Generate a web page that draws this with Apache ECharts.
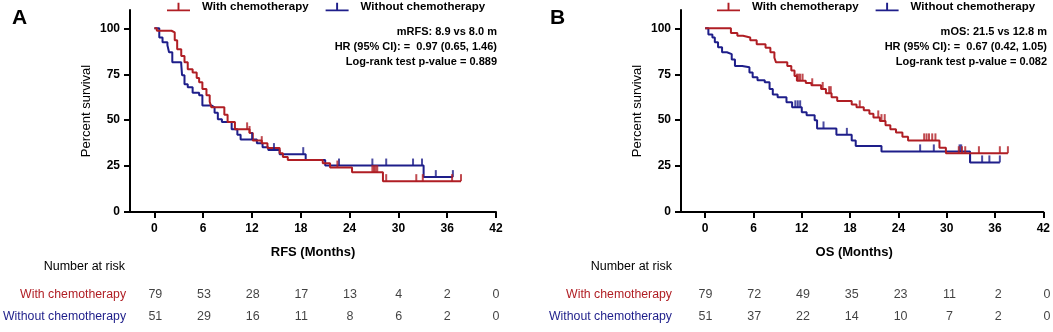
<!DOCTYPE html>
<html><head><meta charset="utf-8">
<script src="https://cdn.jsdelivr.net/npm/echarts@6/dist/echarts.min.js"></script>
<style>html,body{margin:0;padding:0;background:#fff}#c{width:1053px;height:332px}</style>
</head><body><div id="c"></div>
<script>
// ---------- data ----------
const xTicks = [0, 6, 12, 18, 24, 30, 36, 42];
const yTicks = [0, 25, 50, 75, 100];
const groups = ['With chemotherapy', 'Without chemotherapy'];

// Panel A: RFS
const rfsWithTime = [0, 0.3, 2.1, 2.5, 2.8, 3.3, 3.7, 4.1, 4.7, 5.2, 5.5, 5.9, 6.4, 6.8, 7.0, 8.6, 9.0, 9.9, 11.7, 12.1, 13.2, 13.9, 15.4, 15.8, 16.4, 20.7, 21.6, 24.3, 28.1, 37.7];
const rfsWithSurv = [100, 98.7, 97.8, 93.5, 88.6, 85, 81.5, 77.7, 76, 73, 70.6, 67, 63.6, 60, 57, 53, 49, 45, 43, 39, 37.5, 34.8, 32, 30, 28.3, 26.6, 24.2, 21.7, 16.8, 16.8];
const rfsWithCensor = [11.4, 11.7, 13.2, 22.5, 26.8, 27.0, 27.2, 27.4, 28.5, 32.2, 33.0, 36.6, 37.7];

const rfsWithoutTime = [0, 0.6, 1.0, 1.6, 1.8, 2.2, 3.3, 3.4, 3.7, 4.1, 4.7, 5.5, 5.9, 7.0, 7.4, 7.8, 8.3, 9.5, 10.2, 10.6, 12.6, 13.3, 14.0, 15.4, 18.6, 21.0, 33.1, 36.7];
const rfsWithoutSurv = [100, 95, 92.4, 90.8, 87, 81.5, 80.4, 74.5, 69.6, 68, 65, 63.6, 58, 57, 54, 50.5, 49, 45, 42, 39.5, 37.5, 35.3, 33.7, 31.5, 28.3, 25.3, 19, 19];
const rfsWithoutCensor = [12.0, 14.7, 18.3, 22.7, 26.8, 28.5, 31.8, 32.9, 34.6, 36.7];

// Panel B: OS
const osWithTime = [0, 3.2, 4.0, 4.7, 5.6, 6.4, 7.5, 8.1, 8.6, 8.8, 10.2, 10.7, 11.1, 11.4, 12.5, 13.2, 14.4, 15.0, 15.7, 16.4, 18.2, 18.8, 19.7, 20.4, 20.9, 21.7, 22.4, 23.0, 23.7, 24.5, 25.2, 29.1, 29.9, 37.6];
const osWithSurv = [100, 97.5, 96, 95, 93.5, 91.3, 89.5, 87, 84, 81.5, 79.5, 77, 74, 71.5, 70.2, 69, 67, 64.7, 62.5, 60.5, 58.5, 57, 55.4, 53.5, 51.5, 49.5, 47.3, 45, 43.3, 41, 39, 35, 32, 32];
const osWithCensor = [11.4, 11.6, 11.8, 12.1, 13.3, 14.6, 15.4, 15.6, 19.2, 21.5, 21.9, 22.3, 27.2, 27.5, 27.8, 28.2, 28.6, 31.5, 31.9, 32.3, 34.0, 36.6, 37.6];

const osWithoutTime = [0, 0.4, 0.9, 1.2, 1.6, 2.1, 2.7, 3.3, 3.7, 4.6, 5.5, 5.9, 6.5, 7.4, 8.0, 8.4, 9.0, 10.1, 10.8, 12.0, 12.6, 13.6, 13.9, 16.3, 18.2, 18.7, 21.9, 32.9, 36.6];
const osWithoutSurv = [100, 96.7, 95, 92.4, 89.7, 87, 86, 83, 79.5, 78.8, 76, 73.4, 71.7, 70.6, 67, 64, 62.5, 59.8, 57, 54.3, 52.7, 50, 45.5, 42, 39, 36, 33, 27, 27];
const osWithoutCensor = [11.2, 11.5, 11.8, 14.7, 17.6, 26.7, 28.4, 31.6, 31.8, 32.9, 34.4, 35.3, 36.6];

// Number at risk
const rfsRiskWith = [79, 53, 28, 17, 13, 4, 2, 0];
const rfsRiskWithout = [51, 29, 16, 11, 8, 6, 2, 0];
const osRiskWith = [79, 72, 49, 35, 23, 11, 2, 0];
const osRiskWithout = [51, 37, 22, 14, 10, 7, 2, 0];

const statsA = ['mRFS: 8.9 vs 8.0 m', 'HR (95% CI): =  0.97 (0.65, 1.46)', 'Log-rank test p-value = 0.889'];
const statsB = ['mOS: 21.5 vs 12.8 m', 'HR (95% CI): =  0.67 (0.42, 1.05)', 'Log-rank test p-value = 0.082'];

// ---------- styling ----------
const RED = '#B01E24';
const BLUE = '#1E1E8A';
const FONT = "'Liberation Sans', Arial, sans-serif";
const ICON = 'path://M0,10h24v2h-24z M11,3h2v7h-2z';

function pairs(t, s) { return t.map((v, i) => [v, s[i]]); }
function survAt(t, s, x) { let v = s[0]; for (let i = 0; i < t.length; i++) if (t[i] <= x) v = s[i]; return v; }
function censorPts(t, s, c) { return c.map(x => [x, survAt(t, s, x)]); }

const gridTop = 10, gridH = 202, gridW = 366;
const leftA = 130, leftB = 681;

function mainX(gi) {
  return {
    type: 'value', gridIndex: gi, min: -3, max: 42,
    name: gi === 0 ? 'RFS (Months)' : 'OS (Months)', nameLocation: 'middle', nameGap: 34,
    nameTextStyle: { fontFamily: FONT, fontSize: 13, fontWeight: 'bold', color: '#000', padding: gi === 0 ? 0 : [0, 16, 0, 0] },
    axisLine: { onZero: false, lineStyle: { color: '#000', width: 2 } },
    axisTick: { show: true, length: 6, lineStyle: { color: '#000', width: 2 }, customValues: xTicks },
    axisLabel: { fontFamily: FONT, fontSize: 12, fontWeight: 'bold', color: '#000', margin: 11, customValues: xTicks },
    splitLine: { show: false }
  };
}
function mainY(gi) {
  return {
    type: 'value', gridIndex: gi, min: 0, max: 110,
    name: 'Percent survival', nameLocation: 'middle', nameGap: 37, nameRotate: 90,
    nameTextStyle: { fontFamily: FONT, fontSize: 13, color: '#000' },
    axisLine: { show: true, onZero: false, lineStyle: { color: '#000', width: 2 } },
    axisTick: { show: true, length: 6, lineStyle: { color: '#000', width: 2 }, customValues: yTicks },
    axisLabel: { fontFamily: FONT, fontSize: 12, fontWeight: 'bold', color: '#000', margin: 10, customValues: yTicks },
    splitLine: { show: false }
  };
}
function riskX(gi) {
  return { type: 'value', gridIndex: gi, min: -3, max: 42, show: false };
}
function riskY(gi, margin) {
  return {
    type: 'category', gridIndex: gi, data: groups, inverse: true,
    axisLine: { show: false }, axisTick: { show: false }, splitLine: { show: false },
    axisLabel: { fontFamily: FONT, fontSize: 12.3, margin: margin, color: (v, i) => (v === groups[0] ? RED : BLUE) }
  };
}
function kmSeries(name, color, xi, t, s) {
  return { type: 'line', name: name, xAxisIndex: xi, yAxisIndex: xi, data: pairs(t, s), step: 'end',
    symbol: 'none', color: color, lineStyle: { color: color, width: 2 }, silent: true, z: 3 };
}
function censorSeries(name, color, xi, t, s, c) {
  return { type: 'scatter', name: name + ' censored', xAxisIndex: xi, yAxisIndex: xi,
    data: censorPts(t, s, c), symbol: 'rect', symbolSize: [2, 7], symbolOffset: [0, -3.5],
    itemStyle: { color: color }, silent: true, z: 4 };
}
function riskSeries(xi, arr, row) {
  return { type: 'scatter', xAxisIndex: xi, yAxisIndex: xi,
    data: xTicks.map((x, i) => [x, row, arr[i]]), symbolSize: 1, itemStyle: { color: 'rgba(0,0,0,0)' },
    label: { show: true, position: 'inside', formatter: p => String(p.value[2]), fontFamily: FONT, fontSize: 12.5, color: '#111' },
    silent: true };
}
function legend(left) {
  return {
    left: left, top: 1, padding: 0, itemWidth: 23, itemHeight: 11, itemGap: 17,
    selectedMode: false,
    textStyle: { fontFamily: FONT, fontSize: 11.5, fontWeight: 'bold', color: '#000', padding: [0, 0, 0, 7] },
    data: [{ name: groups[0], icon: ICON, itemStyle: { color: RED } }, { name: groups[1], icon: ICON, itemStyle: { color: BLUE } }]
  };
}
function statText(lines, right) {
  return lines.map((txt, i) => ({
    type: 'text', silent: true,
    style: { text: txt, x: right, y: 32 + i * 15, textAlign: 'right', textVerticalAlign: 'middle', verticalAlign: 'middle',
      font: "bold 11px " + FONT, fill: '#000' }
  }));
}
function plainText(txt, x, y, font, align) {
  return { type: 'text', silent: true,
    style: { text: txt, x: x, y: y, textAlign: align, textVerticalAlign: 'middle', verticalAlign: 'middle', font: font, fill: '#000' } };
}

const option = {
  animation: false,
  backgroundColor: '#fff',
  grid: [
    { left: leftA, top: gridTop, width: gridW, height: gridH },
    { left: leftB, top: gridTop, width: gridW, height: gridH },
    { left: leftA, top: 283, width: gridW, height: 45 },
    { left: leftB, top: 283, width: gridW, height: 45 }
  ],
  xAxis: [mainX(0), mainX(1), riskX(2), riskX(3)],
  yAxis: [mainY(0), mainY(1), riskY(2, 5), riskY(3, 9)],
  legend: [legend(167), legend(717)],
  series: [
    kmSeries(groups[1], BLUE, 0, rfsWithoutTime, rfsWithoutSurv),
    kmSeries(groups[0], RED, 0, rfsWithTime, rfsWithSurv),
    censorSeries(groups[1], BLUE, 0, rfsWithoutTime, rfsWithoutSurv, rfsWithoutCensor),
    censorSeries(groups[0], RED, 0, rfsWithTime, rfsWithSurv, rfsWithCensor),
    kmSeries(groups[1], BLUE, 1, osWithoutTime, osWithoutSurv),
    kmSeries(groups[0], RED, 1, osWithTime, osWithSurv),
    censorSeries(groups[1], BLUE, 1, osWithoutTime, osWithoutSurv, osWithoutCensor),
    censorSeries(groups[0], RED, 1, osWithTime, osWithSurv, osWithCensor),
    riskSeries(2, rfsRiskWith, 0),
    riskSeries(2, rfsRiskWithout, 1),
    riskSeries(3, osRiskWith, 0),
    riskSeries(3, osRiskWithout, 1)
  ],
  graphic: [
    plainText('A', 12, 18, "bold 21px " + FONT, 'left'),
    plainText('B', 550, 18, "bold 21px " + FONT, 'left'),
    plainText('Number at risk', 125, 267, "12.5px " + FONT, 'right'),
    plainText('Number at risk', 672, 267, "12.5px " + FONT, 'right'),
    ...statText(statsA, 497),
    ...statText(statsB, 1047)
  ]
};

const chart = echarts.init(document.getElementById('c'), null, { renderer: 'canvas' });
chart.setOption(option);
</script>
</body></html>
